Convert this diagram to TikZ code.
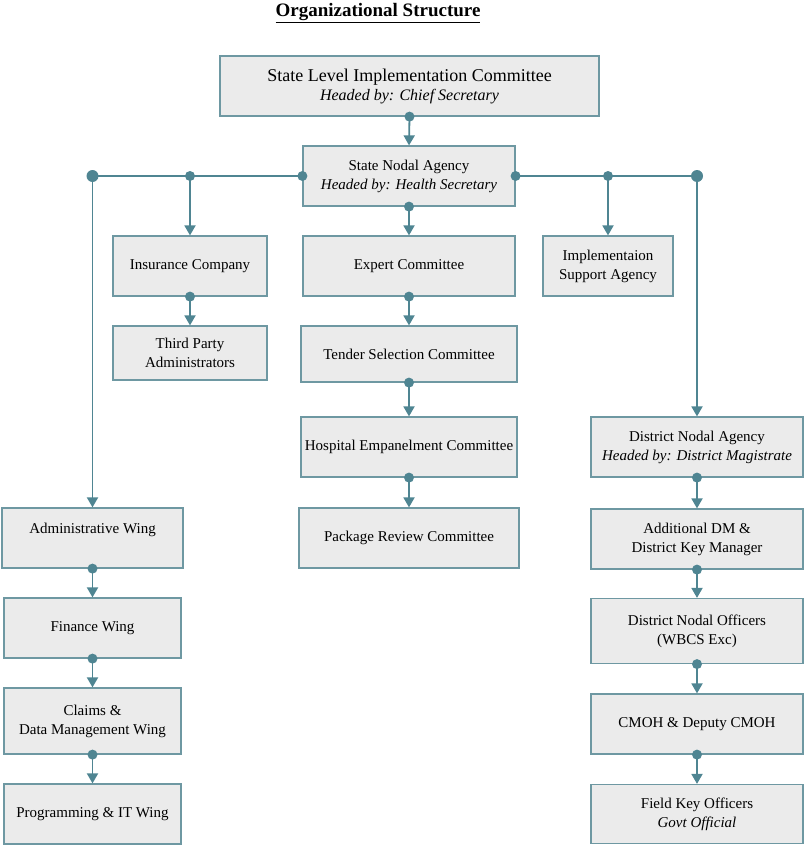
\documentclass[tikz,border=0pt]{standalone}
\usepackage{fontspec}
\setmainfont{Liberation Serif}
\usetikzlibrary{arrows.meta,backgrounds}
\definecolor{BoxFill}{HTML}{EBEBEB}
\definecolor{BoxLine}{HTML}{6E98A2}
\definecolor{LinkLine}{HTML}{4F8592}
\tikzset{%
  OrgBox/.style={draw=BoxLine,fill=BoxFill,line width=1.2pt,inner sep=0pt,align=center,font=\fontsize{15}{19}\selectfont},
  OrgLink/.style={draw=LinkLine,line width=1.8pt,-{Triangle[width=11pt,length=10pt]}},
  OrgDot/.style={fill=LinkLine}
}

\begin{document}
\begin{tikzpicture}[x=1pt,y=-1pt]
\useasboundingbox (0,0) rectangle (807,851);

\node (title) [font=\fontsize{19}{23}\selectfont\bfseries] at (378,13) {\underline{Organizational Structure}};

\node (slic) [OrgBox,minimum width=379pt,minimum height=60pt] at (409.5,86) {{\fontsize{18}{22}\selectfont State Level Implementation Committee}\\{\fontsize{16}{19}\selectfont\itshape Headed by: Chief Secretary}};
\node (sna) [OrgBox,minimum width=212pt,minimum height=60pt] at (409,176) {State Nodal Agency\\\textit{Headed by: Health Secretary}};

\node (ins) [OrgBox,minimum width=154pt,minimum height=60pt] at (190,266) {Insurance Company};
\node (tpa) [OrgBox,minimum width=154pt,minimum height=54pt] at (190,353) {Third Party\\Administrators};

\node (exp) [OrgBox,minimum width=212pt,minimum height=60pt] at (409,266) {Expert Committee};
\node (tsc) [OrgBox,minimum width=216pt,minimum height=56pt] at (409,354) {Tender Selection Committee};
\node (hec) [OrgBox,minimum width=216pt,minimum height=60pt] at (409,447) {Hospital Empanelment Committee};
\node (prc) [OrgBox,minimum width=220pt,minimum height=60pt] at (409,538) {Package Review Committee};

\node (isa) [OrgBox,minimum width=130pt,minimum height=60pt] at (608,266) {Implementaion\\Support Agency};

\node (dna) [OrgBox,minimum width=212pt,minimum height=60pt] at (697,447) {District Nodal Agency\\\textit{Headed by: District Magistrate}};
\node (adk) [OrgBox,minimum width=212pt,minimum height=60pt] at (697,539) {Additional DM \&\\District Key Manager};
\node (dno) [OrgBox,minimum width=212pt,minimum height=65pt] at (697,631) {District Nodal Officers\\(WBCS Exc)};
\node (cmo) [OrgBox,minimum width=212pt,minimum height=60pt] at (697,724) {CMOH \& Deputy CMOH};
\node (fko) [OrgBox,minimum width=212pt,minimum height=59pt] at (697,814) {Field Key Officers\\\textit{Govt Official}};

\node (adw) [OrgBox,minimum width=181pt,minimum height=60pt] at (92.5,538) {Administrative Wing\\\mbox{}};
\node (fin) [OrgBox,minimum width=177pt,minimum height=60pt] at (92.5,628) {Finance Wing};
\node (clm) [OrgBox,minimum width=177pt,minimum height=66pt] at (92.5,721) {Claims \&\\Data Management Wing};
\node (prg) [OrgBox,minimum width=177pt,minimum height=60pt] at (92.5,814) {Programming \& IT Wing};

% branch points on the agency line
\coordinate (jL) at (adw.north |- sna.west);
\coordinate (jI) at (ins.north |- sna.west);
\coordinate (jS) at (isa.north |- sna.east);
\coordinate (jR) at (dna.north |- sna.east);

\begin{scope}[on background layer]
    \draw [LinkLine,line width=1.8pt] (jL) -- (sna.west);
    \draw [LinkLine,line width=1.8pt] (sna.east) -- (jR);
\end{scope}
\draw [OrgLink] (slic.south) -- (sna.north);
\draw [OrgLink] (jL) -- (adw.north);
\draw [OrgLink] (jI) -- (ins.north);
\draw [OrgLink] (jS) -- (isa.north);
\draw [OrgLink] (jR) -- (dna.north);
\draw [OrgLink] (ins.south) -- (tpa.north);
\draw [OrgLink] (sna.south) -- (exp.north);
\draw [OrgLink] (exp.south) -- (tsc.north);
\draw [OrgLink] (tsc.south) -- (hec.north);
\draw [OrgLink] (hec.south) -- (prc.north);
\draw [OrgLink] (adw.south) -- (fin.north);
\draw [OrgLink] (fin.south) -- (clm.north);
\draw [OrgLink] (clm.south) -- (prg.north);
\draw [OrgLink] (dna.south) -- (adk.north);
\draw [OrgLink] (adk.south) -- (dno.north);
\draw [OrgLink] (dno.south) -- (cmo.north);
\draw [OrgLink] (cmo.south) -- (fko.north);

% dots
\foreach \p in {slic.south,sna.south,sna.west,sna.east,jI,jS,ins.south,exp.south,tsc.south,hec.south,adw.south,fin.south,clm.south,dna.south,adk.south,dno.south,cmo.south} {
    \fill [OrgDot] (\p) circle (5pt);
}
\fill [OrgDot] (jL) circle (6pt);
\fill [OrgDot] (jR) circle (6pt);
\end{tikzpicture}
\end{document}
